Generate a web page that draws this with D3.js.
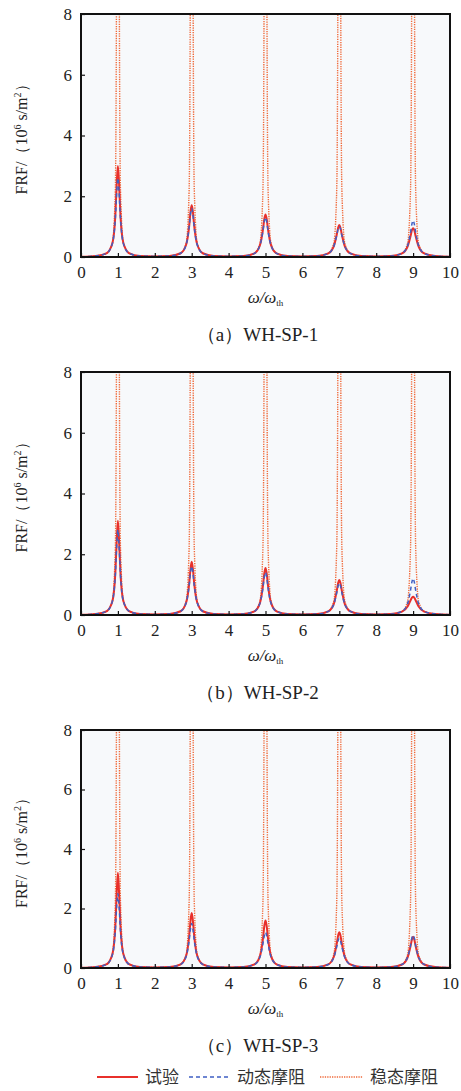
<!DOCTYPE html>
<html>
<head>
<meta charset="utf-8">
<script src="https://cdn.jsdelivr.net/npm/d3@7"></script>
<style>
  body { margin: 0; background: #fff; }
  svg { display: block; }
</style>
</head>
<body>
<svg id="chart" width="461" height="1091"></svg>
<script>
// ---- data ----
var xTicks = [0, 1, 2, 3, 4, 5, 6, 7, 8, 9, 10];
var yTicks = [0, 2, 4, 6, 8];
var peakCentres = [1, 3, 5, 7, 9];
var troughX = [0, 2, 4, 6, 8, 10];
var peakOffsets = [-0.6, -0.3, -0.15, -0.07, -0.03, 0, 0.03, 0.07, 0.15, 0.3, 0.6];
var steadyOffsets = [-0.6, -0.3, -0.15, -0.07, -0.04, -0.02, 0, 0.02, 0.04, 0.07, 0.15, 0.3, 0.6];
var captions = ["（a）WH-SP-1", "（b）WH-SP-2", "（c）WH-SP-3"];
var legendNames = ["试验", "动态摩阻", "稳态摩阻"];

// panel a
var troughA = [0.005, 0.02, 0.02, 0.02, 0.02, 0.01];
var testA = [
  [0.033, 0.13, 0.45, 1.35, 2.45, 3.0, 2.45, 1.35, 0.45, 0.13, 0.033],
  [0.033, 0.124, 0.41, 1.0, 1.51, 1.7, 1.51, 1.0, 0.41, 0.124, 0.033],
  [0.033, 0.12, 0.39, 0.89, 1.27, 1.4, 1.27, 0.89, 0.39, 0.12, 0.033],
  [0.033, 0.118, 0.35, 0.73, 0.97, 1.05, 0.97, 0.73, 0.35, 0.118, 0.033],
  [0.032, 0.117, 0.34, 0.68, 0.89, 0.95, 0.89, 0.68, 0.34, 0.117, 0.032]
];
var dynA = [
  [0.034, 0.128, 0.44, 1.26, 2.16, 2.6, 2.16, 1.26, 0.44, 0.128, 0.034],
  [0.033, 0.123, 0.40, 0.97, 1.43, 1.6, 1.43, 0.97, 0.40, 0.123, 0.033],
  [0.033, 0.12, 0.38, 0.85, 1.18, 1.3, 1.18, 0.85, 0.38, 0.12, 0.033],
  [0.032, 0.118, 0.35, 0.71, 0.93, 1.0, 0.93, 0.71, 0.35, 0.118, 0.032],
  [0.033, 0.12, 0.37, 0.81, 1.10, 1.2, 1.10, 0.81, 0.37, 0.12, 0.033]
];
var steadyA = [
  [0.03, 0.12, 0.45, 2.2, 8, 40, 90, 40, 8, 2.2, 0.45, 0.12, 0.03],
  [0.03, 0.12, 0.45, 2.2, 8, 40, 90, 40, 8, 2.2, 0.45, 0.12, 0.03],
  [0.03, 0.12, 0.45, 2.2, 8, 40, 90, 40, 8, 2.2, 0.45, 0.12, 0.03],
  [0.03, 0.12, 0.45, 2.2, 8, 40, 90, 40, 8, 2.2, 0.45, 0.12, 0.03],
  [0.03, 0.12, 0.45, 2.2, 8, 40, 90, 40, 8, 2.2, 0.45, 0.12, 0.03]
];

// panel b
var troughB = [0.005, 0.02, 0.02, 0.02, 0.02, 0.01];
var testB = [
  [0.033, 0.13, 0.45, 1.37, 2.5, 3.1, 2.5, 1.37, 0.45, 0.13, 0.033],
  [0.033, 0.124, 0.41, 1.01, 1.54, 1.75, 1.54, 1.01, 0.41, 0.124, 0.033],
  [0.033, 0.122, 0.40, 0.95, 1.39, 1.55, 1.39, 0.95, 0.40, 0.122, 0.033],
  [0.033, 0.12, 0.36, 0.79, 1.06, 1.15, 1.06, 0.79, 0.36, 0.12, 0.033],
  [0.032, 0.11, 0.28, 0.48, 0.57, 0.6, 0.57, 0.48, 0.28, 0.11, 0.032]
];
var dynB = [
  [0.033, 0.13, 0.45, 1.31, 2.31, 2.8, 2.31, 1.31, 0.45, 0.13, 0.033],
  [0.033, 0.123, 0.40, 0.97, 1.43, 1.6, 1.43, 0.97, 0.40, 0.123, 0.033],
  [0.033, 0.12, 0.39, 0.89, 1.27, 1.4, 1.27, 0.89, 0.39, 0.12, 0.033],
  [0.032, 0.118, 0.35, 0.73, 0.97, 1.05, 0.97, 0.73, 0.35, 0.118, 0.032],
  [0.033, 0.12, 0.37, 0.81, 1.10, 1.2, 1.10, 0.81, 0.37, 0.12, 0.033]
];
var steadyB = [
  [0.03, 0.12, 0.45, 2.2, 8, 40, 90, 40, 8, 2.2, 0.45, 0.12, 0.03],
  [0.03, 0.12, 0.45, 2.2, 8, 40, 90, 40, 8, 2.2, 0.45, 0.12, 0.03],
  [0.03, 0.12, 0.45, 2.2, 8, 40, 90, 40, 8, 2.2, 0.45, 0.12, 0.03],
  [0.03, 0.12, 0.45, 2.2, 8, 40, 90, 40, 8, 2.2, 0.45, 0.12, 0.03],
  [0.03, 0.12, 0.45, 2.2, 8, 40, 90, 40, 8, 2.2, 0.45, 0.12, 0.03]
];

// panel c
var troughC = [0.005, 0.02, 0.02, 0.02, 0.02, 0.01];
var testC = [
  [0.033, 0.13, 0.46, 1.39, 2.58, 3.2, 2.58, 1.39, 0.46, 0.13, 0.033],
  [0.033, 0.125, 0.41, 1.05, 1.62, 1.85, 1.62, 1.05, 0.41, 0.125, 0.033],
  [0.033, 0.123, 0.40, 0.97, 1.43, 1.6, 1.43, 0.97, 0.40, 0.123, 0.033],
  [0.033, 0.12, 0.37, 0.81, 1.10, 1.2, 1.10, 0.81, 0.37, 0.12, 0.033],
  [0.032, 0.118, 0.35, 0.73, 0.97, 1.05, 0.97, 0.73, 0.35, 0.118, 0.032]
];
var dynC = [
  [0.033, 0.127, 0.44, 1.24, 2.11, 2.5, 2.11, 1.24, 0.44, 0.127, 0.033],
  [0.033, 0.12, 0.39, 0.92, 1.34, 1.5, 1.34, 0.92, 0.39, 0.12, 0.033],
  [0.033, 0.12, 0.37, 0.81, 1.10, 1.2, 1.10, 0.81, 0.37, 0.12, 0.033],
  [0.032, 0.118, 0.35, 0.71, 0.93, 1.0, 0.93, 0.71, 0.35, 0.118, 0.032],
  [0.033, 0.12, 0.36, 0.76, 1.02, 1.1, 1.02, 0.76, 0.36, 0.12, 0.033]
];
var steadyC = [
  [0.03, 0.12, 0.45, 2.2, 8, 40, 90, 40, 8, 2.2, 0.45, 0.12, 0.03],
  [0.03, 0.12, 0.45, 2.2, 8, 40, 90, 40, 8, 2.2, 0.45, 0.12, 0.03],
  [0.03, 0.12, 0.45, 2.2, 8, 40, 90, 40, 8, 2.2, 0.45, 0.12, 0.03],
  [0.03, 0.12, 0.45, 2.2, 8, 40, 90, 40, 8, 2.2, 0.45, 0.12, 0.03],
  [0.03, 0.12, 0.45, 2.2, 8, 40, 90, 40, 8, 2.2, 0.45, 0.12, 0.03]
];

var panelData = [
  { trough: troughA, test: testA, dyn: dynA, steady: steadyA },
  { trough: troughB, test: testB, dyn: dynB, steady: steadyB },
  { trough: troughC, test: testC, dyn: dynC, steady: steadyC }
];

// ---- layout ----
var left = 81, right = 450;
var panelBox = [ { top: 14, bottom: 257 }, { top: 372, bottom: 615 }, { top: 730, bottom: 968 } ];
var serif = "Liberation Serif, Times New Roman, DejaVu Serif, serif";
var cjk = "Noto Sans CJK SC, Noto Sans, sans-serif";
var colTest = "#e8302b", colDyn = "#3f5fc4", colSteady = "#f06a3a";

var svg = d3.select("#chart");

// turn peak rows into sorted points
function buildPoints(rows, offsets, trough) {
  var pts = [];
  rows.forEach(function(row, i) {
    row.forEach(function(v, j) {
      pts.push([peakCentres[i] + offsets[j], v]);
    });
  });
  troughX.forEach(function(x, k) { pts.push([x, trough[k]]); });
  pts.sort(function(a, b) { return a[0] - b[0]; });
  return pts;
}

panelData.forEach(function(pd, p) {
  var box = panelBox[p];
  var x = d3.scaleLinear().domain([0, 10]).range([left, right]);
  var y = d3.scaleLinear().domain([0, 8]).range([box.bottom, box.top]);

  var g = svg.append("g");

  g.append("rect")
    .attr("x", left).attr("y", box.top)
    .attr("width", right - left).attr("height", box.bottom - box.top)
    .attr("fill", "#f7f9fb");

  svg.append("clipPath").attr("id", "clip" + p)
    .append("rect")
    .attr("x", left).attr("y", box.top)
    .attr("width", right - left).attr("height", box.bottom - box.top);

  var line = d3.line()
    .x(function(d) { return x(d[0]); })
    .y(function(d) { return y(d[1]); })
    .curve(d3.curveMonotoneX);

  var lines = g.append("g").attr("clip-path", "url(#clip" + p + ")");

  lines.append("path")
    .datum(buildPoints(pd.steady, steadyOffsets, pd.trough))
    .attr("d", line)
    .attr("fill", "none")
    .attr("stroke", colSteady)
    .attr("stroke-width", 1.4)
    .attr("stroke-dasharray", "1.3,1.1");

  lines.append("path")
    .datum(buildPoints(pd.test, peakOffsets, pd.trough))
    .attr("d", line)
    .attr("fill", "none")
    .attr("stroke", colTest)
    .attr("stroke-width", 2);

  lines.append("path")
    .datum(buildPoints(pd.dyn, peakOffsets, pd.trough))
    .attr("d", line)
    .attr("fill", "none")
    .attr("stroke", colDyn)
    .attr("stroke-width", 1.5)
    .attr("stroke-dasharray", "4,3");

  // axes with inward ticks
  var xAxis = d3.axisBottom(x).tickValues(xTicks).tickSizeInner(-4).tickSizeOuter(0).tickPadding(9);
  var yAxis = d3.axisLeft(y).tickValues(yTicks).tickSizeInner(-4).tickSizeOuter(0).tickPadding(9);

  var gx = g.append("g").attr("transform", "translate(0," + box.bottom + ")").call(xAxis);
  var gy = g.append("g").attr("transform", "translate(" + left + ",0)").call(yAxis);
  [gx, gy].forEach(function(a) {
    a.attr("font-family", serif).attr("font-size", 17);
    a.select(".domain").remove();
    a.selectAll(".tick line").attr("stroke", "#111").attr("stroke-width", 1.2);
    a.selectAll(".tick text").attr("fill", "#222");
  });

  // frame
  g.append("rect")
    .attr("x", left).attr("y", box.top)
    .attr("width", right - left).attr("height", box.bottom - box.top)
    .attr("fill", "none").attr("stroke", "#111").attr("stroke-width", 2);

  // y title
  var cy = (box.top + box.bottom) / 2;
  var yt = g.append("text")
    .attr("transform", "translate(27," + cy + ") rotate(-90)")
    .attr("text-anchor", "middle")
    .attr("font-family", serif).attr("font-size", 16).attr("fill", "#222");
  yt.append("tspan").text("FRF/（10");
  yt.append("tspan").attr("dy", -6).attr("font-size", 10).text("6");
  yt.append("tspan").attr("dy", 6).text(" s/m");
  yt.append("tspan").attr("dy", -6).attr("font-size", 10).text("2");
  yt.append("tspan").attr("dy", 6).text("）");

  // x title
  var xt = g.append("text")
    .attr("x", (left + right) / 2).attr("y", box.bottom + 46)
    .attr("text-anchor", "middle")
    .attr("font-family", serif).attr("font-size", 17).attr("fill", "#222");
  xt.append("tspan").attr("font-style", "italic").text("ω/ω");
  xt.append("tspan").attr("dy", 3).attr("font-size", 9).text("th");

  // caption
  g.append("text")
    .attr("x", (left + right) / 2 - 8).attr("y", box.bottom + 84)
    .attr("text-anchor", "middle")
    .attr("font-family", serif).attr("font-size", 19).attr("fill", "#222")
    .text(captions[p]);
});

// legend
var legendY = 1077;
var legendItems = [
  { x1: 97, x2: 138, tx: 145, color: colTest, dash: null, w: 2 },
  { x1: 189, x2: 230, tx: 237, color: colDyn, dash: "4,3", w: 1.6 },
  { x1: 320, x2: 363, tx: 370, color: colSteady, dash: "1.3,1.1", w: 1.4 }
];
var lg = svg.append("g");
legendItems.forEach(function(it, i) {
  lg.append("line")
    .attr("x1", it.x1).attr("x2", it.x2)
    .attr("y1", legendY).attr("y2", legendY)
    .attr("stroke", it.color).attr("stroke-width", it.w)
    .attr("stroke-dasharray", it.dash);
  lg.append("text")
    .attr("x", it.tx).attr("y", legendY + 6)
    .attr("font-family", cjk).attr("font-size", 17).attr("fill", "#333")
    .text(legendNames[i]);
});
</script>
</body>
</html>
